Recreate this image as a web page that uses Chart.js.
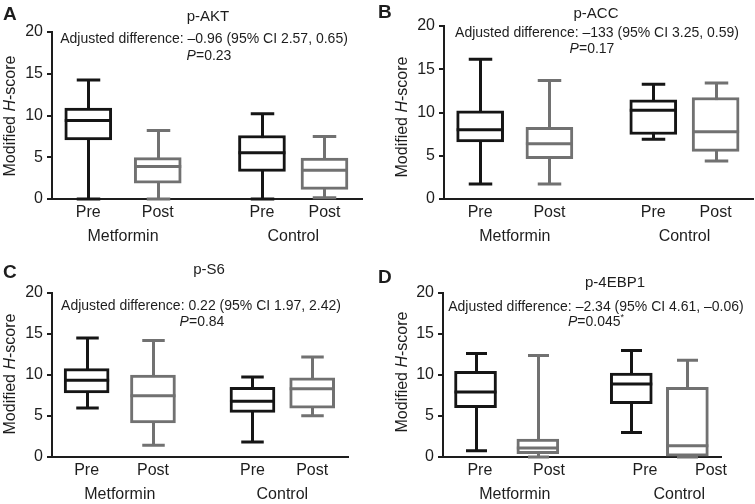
<!DOCTYPE html>
<html>
<head>
<meta charset="utf-8">
<script src="https://cdn.jsdelivr.net/npm/chart.js@4.4.1/dist/chart.umd.min.js"></script>
<style>
    body { margin: 0; background: #fff; width: 755px; height: 504px; overflow: hidden; position: relative;
           font-family: "Liberation Sans", Arial, sans-serif; color: #1d1d1d; }
    canvas { position: absolute; }
    .txt { position: absolute; white-space: nowrap; line-height: 1; transform: translateX(-50%); }
    .title { font-size: 15px; }
    .ann { font-size: 14px; }
    .letter { position: absolute; font-weight: bold; font-size: 19px; line-height: 1; }
    .ytitle { position: absolute; font-size: 16px; line-height: 1; white-space: nowrap;
              transform: translate(-50%, -50%) rotate(-90deg); }
</style>
</head>
<body>
<canvas id="chart-a" width="375" height="250" style="left:0;top:0"></canvas>
<canvas id="chart-b" width="380" height="250" style="left:375px;top:0"></canvas>
<canvas id="chart-c" width="375" height="254" style="left:0;top:250px"></canvas>
<canvas id="chart-d" width="380" height="254" style="left:375px;top:250px"></canvas>

<div class="letter" style="left:3px;top:4px">A</div>
<div class="txt title" style="left:208px;top:8px">p-AKT</div>
<div class="txt ann" style="left:204px;top:31px">Adjusted difference: –0.96 (95% CI 2.57, 0.65)</div>
<div class="txt ann" style="left:209px;top:48px"><i>P</i>=0.23</div>
<div class="ytitle" style="left:10px;top:116px">Modified <i>H</i>-score</div>

<div class="letter" style="left:378px;top:2px">B</div>
<div class="txt title" style="left:596px;top:5px">p-ACC</div>
<div class="txt ann" style="left:597px;top:25px">Adjusted difference: –133 (95% CI 3.25, 0.59)</div>
<div class="txt ann" style="left:592px;top:41px"><i>P</i>=0.17</div>
<div class="ytitle" style="left:402px;top:117px">Modified <i>H</i>-score</div>

<div class="letter" style="left:3px;top:262px">C</div>
<div class="txt title" style="left:209px;top:261px">p-S6</div>
<div class="txt ann" style="left:201px;top:298px">Adjusted difference: 0.22 (95% CI 1.97, 2.42)</div>
<div class="txt ann" style="left:202px;top:314px"><i>P</i>=0.84</div>
<div class="ytitle" style="left:10px;top:374px">Modified <i>H</i>-score</div>

<div class="letter" style="left:378px;top:267px">D</div>
<div class="txt title" style="left:615px;top:274px">p-4EBP1</div>
<div class="txt ann" style="left:596px;top:299px">Adjusted difference: –2.34 (95% CI 4.61, –0.06)</div>
<div class="txt ann" style="left:596px;top:313px"><i>P</i>=0.045<sup style="font-size:9px">*</sup></div>
<div class="ytitle" style="left:402px;top:372px">Modified <i>H</i>-score</div>

<script>
// Categories
const times = ['Pre', 'Post', 'Pre', 'Post'];
const groupNames = ['Metformin', 'Control'];
const boxPos = [1, 2, 3.5, 4.4];
const groupPos = [1.5, 3.95];
const yTicks = [0, 5, 10, 15, 20];

// p-AKT
const aktMin = [0, 0, 0, 0.15];
const aktQ1 = [7.07, 1.9, 3.3, 1.15];
const aktMed = [9.4, 3.9, 5.55, 3.45];
const aktQ3 = [10.9, 4.95, 7.6, 4.9];
const aktMax = [14.25, 8.2, 10.2, 7.5];

// p-ACC
const accMin = [1.73, 1.73, 6.92, 4.38];
const accQ1 = [6.6, 4.65, 7.46, 5.5];
const accMed = [8.0, 6.4, 10.27, 7.77];
const accQ3 = [10.2, 8.3, 11.46, 11.73];
const accMax = [16.15, 13.7, 13.27, 13.4];

// p-S6
const s6Min = [5.97, 1.42, 1.83, 5.04];
const s6Q1 = [7.8, 4.15, 5.45, 5.97];
const s6Med = [9.35, 7.48, 6.8, 8.33];
const s6Q3 = [10.77, 10.0, 8.5, 9.67];
const s6Max = [14.5, 14.2, 9.75, 12.2];

// p-4EBP1
const ebpMin = [0.77, 0, 3.0, 0];
const ebpQ1 = [6.01, 0.4, 6.5, 0.1];
const ebpMed = [7.93, 1.1, 8.9, 1.38];
const ebpQ3 = [10.44, 2.2, 10.24, 8.5];
const ebpMax = [12.63, 12.39, 13.0, 11.8];

const BLACK = '#151515';
const GRAY = '#717171';
const TEXT = '#1d1d1d';
const boxColors = [BLACK, GRAY, BLACK, GRAY];
const X_MIN = 0.478, X_MAX = 4.94;

// whiskers behind the boxes, medians on top
const boxPlotPlugin = {
    id: 'boxplot',
    beforeDatasetsDraw(chart) {
        const ds = chart.data.datasets[0];
        const meta = chart.getDatasetMeta(0);
        const y = chart.scales.y;
        const ctx = chart.ctx;
        ctx.save();
        ctx.lineWidth = 3;
        meta.data.forEach((bar, i) => {
            const cx = Math.round(bar.x) + 0.5;
            const half = bar.width / 4;
            const yMin = y.getPixelForValue(ds.mins[i]);
            const yMax = y.getPixelForValue(ds.maxs[i]);
            ctx.strokeStyle = boxColors[i];
            ctx.beginPath();
            ctx.moveTo(cx, yMin);
            ctx.lineTo(cx, yMax);
            ctx.moveTo(cx - half, yMax);
            ctx.lineTo(cx + half, yMax);
            ctx.moveTo(cx - half, yMin);
            ctx.lineTo(cx + half, yMin);
            ctx.stroke();
        });
        ctx.restore();
    },
    afterDatasetsDraw(chart) {
        const ds = chart.data.datasets[0];
        const meta = chart.getDatasetMeta(0);
        const y = chart.scales.y;
        const ctx = chart.ctx;
        ctx.save();
        ctx.lineWidth = 3;
        meta.data.forEach((bar, i) => {
            const ym = y.getPixelForValue(ds.medians[i]);
            ctx.strokeStyle = boxColors[i];
            ctx.beginPath();
            ctx.moveTo(bar.x - bar.width / 2, ym);
            ctx.lineTo(bar.x + bar.width / 2, ym);
            ctx.stroke();
        });
        ctx.restore();
    }
};

function buildPanel(id, mins, q1, med, q3, maxs, area, w, h, labelPos, groupLabelPos) {
    const boxW = Math.round(0.68 * (area.r - area.l) / (X_MAX - X_MIN));
    labelPos = labelPos || boxPos;
    groupLabelPos = groupLabelPos || groupPos;
    const xLabel = v => {
        const bi = labelPos.indexOf(v);
        if (bi >= 0) return times[bi];
        const gi = groupLabelPos.indexOf(v);
        return gi >= 0 ? ['', groupNames[gi]] : '';
    };
    new Chart(document.getElementById(id), {
        type: 'bar',
        data: {
            datasets: [{
                data: boxPos.map((x, i) => ({ x: x, y: [q1[i], q3[i]] })),
                mins: mins,
                maxs: maxs,
                medians: med,
                backgroundColor: '#fff',
                borderColor: boxColors,
                borderWidth: 3,
                borderSkipped: false,
                barThickness: boxW,
            }]
        },
        options: {
            responsive: false,
            animation: false,
            layout: { padding: { top: area.t, right: w - area.r, left: 0, bottom: 0 } },
            plugins: { legend: { display: false }, tooltip: { enabled: false } },
            scales: {
                x: {
                    type: 'linear',
                    min: X_MIN,
                    max: X_MAX,
                    offset: false,
                    afterBuildTicks: s => {
                        s.ticks = labelPos.concat(groupLabelPos).sort((a, b) => a - b).map(v => ({ value: v }));
                    },
                    afterFit: s => { s.height = h - area.b; },
                    ticks: {
                        autoSkip: false,
                        maxRotation: 0,
                        padding: 2,
                        color: TEXT,
                        font: { family: 'Liberation Sans', size: 16, lineHeight: 1.5 },
                        callback: v => xLabel(v)
                    },
                    grid: { display: false, drawTicks: false },
                    border: { display: true, color: TEXT, width: 2 }
                },
                y: {
                    min: 0,
                    max: 20,
                    afterBuildTicks: s => { s.ticks = yTicks.map(v => ({ value: v })); },
                    afterFit: s => { s.width = area.l; },
                    ticks: { color: TEXT, padding: 4, font: { family: 'Liberation Sans', size: 16 } },
                    grid: { drawOnChartArea: false, drawTicks: true, tickLength: 5, color: TEXT, lineWidth: 2 },
                    border: { display: true, color: TEXT, width: 2 }
                }
            }
        },
        plugins: [boxPlotPlugin]
    });
}

buildPanel('chart-a', aktMin, aktQ1, aktMed, aktQ3, aktMax, { l: 52, t: 32, r: 362, b: 199 }, 375, 250);
buildPanel('chart-b', accMin, accQ1, accMed, accQ3, accMax, { l: 69, t: 26, r: 378, b: 199 }, 380, 250);
buildPanel('chart-c', s6Min, s6Q1, s6Med, s6Q3, s6Max, { l: 52, t: 43, r: 348, b: 207 }, 375, 254);
// panel D's labels sit a little right of its boxes in the original figure
buildPanel('chart-d', ebpMin, ebpQ1, ebpMed, ebpQ3, ebpMax, { l: 68, t: 43, r: 346, b: 207 }, 380, 254,
    [1.07, 2.18, 3.72, 4.78], [1.63, 4.27]);
</script>
</body>
</html>
